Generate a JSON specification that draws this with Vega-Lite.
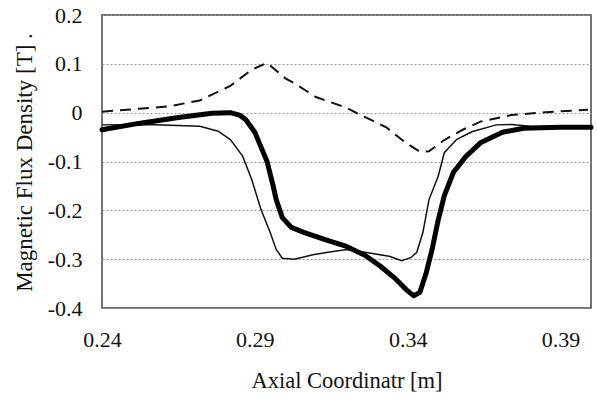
{
  "$schema": "https://vega.github.io/schema/vega-lite/v6.json",
  "width": 489,
  "height": 293,
  "autosize": {"type": "none"},
  "padding": {"left": 102, "top": 15, "right": 6, "bottom": 91},
  "background": "white",
  "config": {
    "font": "'Liberation Serif', 'Times New Roman', Times, 'DejaVu Serif', serif",
    "view": {"stroke": "#444444", "strokeWidth": 1.5},
    "axis": {"labelFont": "'Liberation Serif', 'Times New Roman', Times, 'DejaVu Serif', serif", "titleFont": "'Liberation Serif', 'Times New Roman', Times, 'DejaVu Serif', serif", "labelColor": "#111111", "titleColor": "#111111", "titleFontWeight": "normal", "domain": false, "ticks": false, "labelFlush": false, "labelOverlap": false}
  },
  "data": {"values": [
    {"s":"dash","x":0.240,"y":0.002},{"s":"dash","x":0.252,"y":0.008},{"s":"dash","x":0.262,"y":0.013},{"s":"dash","x":0.272,"y":0.025},{"s":"dash","x":0.282,"y":0.055},{"s":"dash","x":0.289,"y":0.088},{"s":"dash","x":0.294,"y":0.102},{"s":"dash","x":0.300,"y":0.070},{"s":"dash","x":0.303,"y":0.060},{"s":"dash","x":0.310,"y":0.032},{"s":"dash","x":0.320,"y":0.010},{"s":"dash","x":0.325,"y":-0.006},{"s":"dash","x":0.333,"y":-0.030},{"s":"dash","x":0.339,"y":-0.060},{"s":"dash","x":0.344,"y":-0.080},{"s":"dash","x":0.347,"y":-0.079},{"s":"dash","x":0.352,"y":-0.056},{"s":"dash","x":0.358,"y":-0.035},{"s":"dash","x":0.364,"y":-0.018},{"s":"dash","x":0.374,"y":-0.005},{"s":"dash","x":0.385,"y":0.001},{"s":"dash","x":0.399,"y":0.006},
    {"s":"thick","x":0.240,"y":-0.035},{"s":"thick","x":0.252,"y":-0.022},{"s":"thick","x":0.265,"y":-0.010},{"s":"thick","x":0.276,"y":-0.001},{"s":"thick","x":0.282,"y":0.000},{"s":"thick","x":0.285,"y":-0.005},{"s":"thick","x":0.287,"y":-0.014},{"s":"thick","x":0.290,"y":-0.040},{"s":"thick","x":0.292,"y":-0.070},{"s":"thick","x":0.294,"y":-0.100},{"s":"thick","x":0.296,"y":-0.150},{"s":"thick","x":0.297,"y":-0.178},{"s":"thick","x":0.299,"y":-0.215},{"s":"thick","x":0.302,"y":-0.235},{"s":"thick","x":0.306,"y":-0.245},{"s":"thick","x":0.313,"y":-0.260},{"s":"thick","x":0.320,"y":-0.274},{"s":"thick","x":0.326,"y":-0.292},{"s":"thick","x":0.331,"y":-0.314},{"s":"thick","x":0.336,"y":-0.340},{"s":"thick","x":0.340,"y":-0.365},{"s":"thick","x":0.342,"y":-0.375},{"s":"thick","x":0.344,"y":-0.368},{"s":"thick","x":0.346,"y":-0.330},{"s":"thick","x":0.348,"y":-0.280},{"s":"thick","x":0.350,"y":-0.220},{"s":"thick","x":0.352,"y":-0.170},{"s":"thick","x":0.355,"y":-0.122},{"s":"thick","x":0.359,"y":-0.090},{"s":"thick","x":0.364,"y":-0.061},{"s":"thick","x":0.371,"y":-0.040},{"s":"thick","x":0.378,"y":-0.032},{"s":"thick","x":0.390,"y":-0.030},{"s":"thick","x":0.400,"y":-0.030},
    {"s":"thin","x":0.240,"y":-0.025},{"s":"thin","x":0.255,"y":-0.024},{"s":"thin","x":0.272,"y":-0.028},{"s":"thin","x":0.278,"y":-0.038},{"s":"thin","x":0.282,"y":-0.055},{"s":"thin","x":0.286,"y":-0.089},{"s":"thin","x":0.289,"y":-0.137},{"s":"thin","x":0.291,"y":-0.178},{"s":"thin","x":0.292,"y":-0.198},{"s":"thin","x":0.295,"y":-0.245},{"s":"thin","x":0.297,"y":-0.280},{"s":"thin","x":0.299,"y":-0.298},{"s":"thin","x":0.303,"y":-0.300},{"s":"thin","x":0.309,"y":-0.291},{"s":"thin","x":0.314,"y":-0.286},{"s":"thin","x":0.320,"y":-0.280},{"s":"thin","x":0.325,"y":-0.285},{"s":"thin","x":0.334,"y":-0.294},{"s":"thin","x":0.338,"y":-0.303},{"s":"thin","x":0.341,"y":-0.297},{"s":"thin","x":0.343,"y":-0.286},{"s":"thin","x":0.345,"y":-0.245},{"s":"thin","x":0.347,"y":-0.178},{"s":"thin","x":0.350,"y":-0.130},{"s":"thin","x":0.352,"y":-0.082},{"s":"thin","x":0.356,"y":-0.055},{"s":"thin","x":0.361,"y":-0.039},{"s":"thin","x":0.369,"y":-0.025},{"s":"thin","x":0.374,"y":-0.024},{"s":"thin","x":0.380,"y":-0.028},{"s":"thin","x":0.400,"y":-0.030}
  ]},
  "encoding": {
    "x": {"field": "x", "type": "quantitative", "scale": {"domain": [0.24, 0.40], "nice": false, "zero": false},
      "axis": {"title": "Axial Coordinatr [m]", "values": [0.24, 0.29, 0.34, 0.39], "format": ".2f", "grid": false, "labelFontSize": 22, "titleFontSize": 22.5, "labelPadding": 21, "titlePadding": 19}},
    "y": {"field": "y", "type": "quantitative", "scale": {"domain": [-0.4, 0.2], "nice": false, "zero": false},
      "axis": {"title": "Magnetic Flux Density [T] .", "values": [-0.4, -0.3, -0.2, -0.1, 0, 0.1, 0.2], "labelExpr": "datum.value == 0 ? '0' : replace(format(datum.value, '.1f'), '\u2212', '-')", "grid": true, "gridColor": "#999999", "gridDash": [2, 2], "gridWidth": 1, "labelFontSize": 22, "titleFontSize": 23, "labelPadding": 20, "titleX": -66, "titleY": 147}}
  },
  "layer": [
    {"transform": [{"filter": "datum.s == 'dash'"}], "mark": {"type": "line", "color": "#111111", "strokeWidth": 2, "strokeDash": [11, 7]}},
    {"transform": [{"filter": "datum.s == 'thin'"}], "mark": {"type": "line", "color": "#111111", "strokeWidth": 1.5}},
    {"transform": [{"filter": "datum.s == 'thick'"}], "mark": {"type": "line", "color": "#000000", "strokeWidth": 5, "strokeJoin": "round", "strokeCap": "round"}}
  ]
}
